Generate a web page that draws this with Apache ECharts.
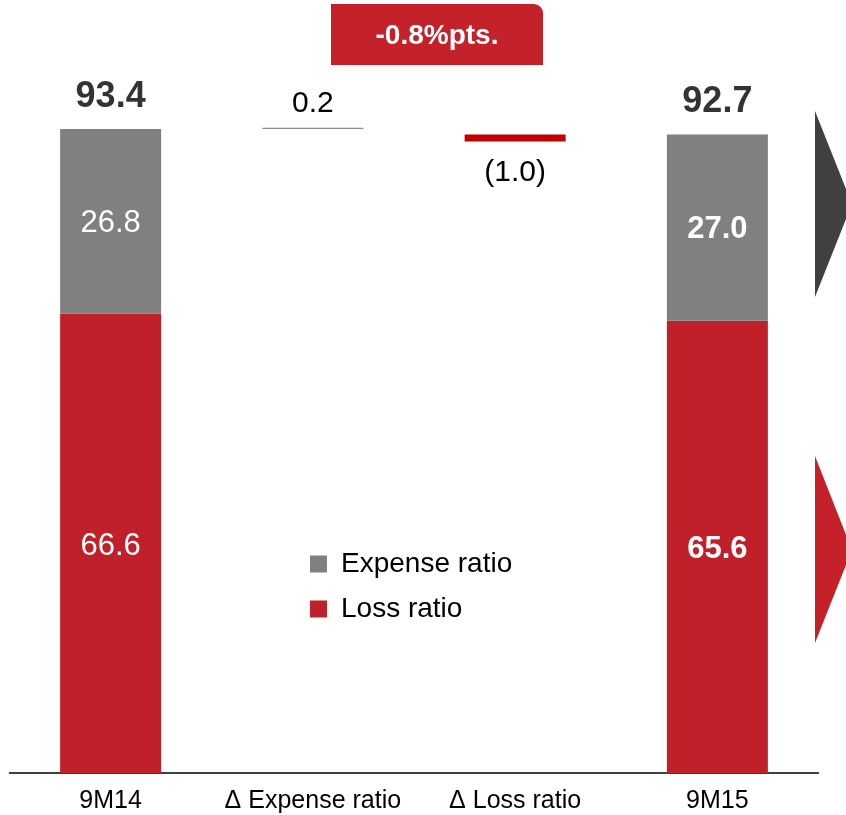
<!DOCTYPE html>
<html>
<head>
<meta charset="utf-8">
<script src="https://cdn.jsdelivr.net/npm/echarts@6/dist/echarts.min.js"></script>
<style>
  html, body { margin: 0; padding: 0; background: #fff; }
  #chart { width: 846px; height: 815px; }
</style>
</head>
<body>
<div id="chart"></div>
<script>
// Combined ratio bridge, 9M14 -> 9M15 (in %)
const categories = ['9M14', 'Δ Expense ratio', 'Δ Loss ratio', '9M15'];
const lossRatio = [66.6, '-', '-', 65.6];
const expenseRatio = [26.8, '-', '-', 27.0];
const totals = [93.4, '-', '-', 92.7];
const deltaExpense = ['-', 0.2, '-', '-'];
const deltaLoss = ['-', '-', -1.0, '-'];
// floating offsets under the change bars
const deltaBase = ['-', 93.4, 91.6, '-'];
const changeLabel = '-0.8%pts.';

const RED = '#C0202A';
const GREY = '#808080';
const FONT = '"Liberation Sans", Arial, sans-serif';

const chart = echarts.init(document.getElementById('chart'), null, { renderer: 'canvas' });

const fmtDelta = v => (v < 0 ? '(' + Math.abs(v).toFixed(1) + ')' : v.toFixed(1));

chart.setOption({
  animation: false,
  textStyle: { fontFamily: FONT },
  grid: { left: 9.5, right: 27.5, top: 83.5, bottom: 42, containLabel: false },
  legend: {
    data: ['Expense ratio', 'Loss ratio'],
    orient: 'vertical',
    left: 310,
    top: 550,
    padding: 0,
    itemWidth: 17,
    itemHeight: 17,
    itemGap: 17,
    icon: 'rect',
    textStyle: { fontSize: 28, color: '#000', fontFamily: FONT, padding: [0, 0, 0, 9] }
  },
  xAxis: {
    type: 'category',
    data: categories,
    axisTick: { show: false },
    axisLine: { lineStyle: { color: '#000', width: 1.5 } },
    axisLabel: { interval: 0, fontSize: 25, color: '#000', fontFamily: FONT, margin: 16 }
  },
  yAxis: {
    type: 'value', min: 0, max: 100, show: false,
    splitLine: { show: false }
  },
  series: [
    {
      name: 'base', type: 'bar', stack: 'w', barWidth: 101,
      data: deltaBase,
      itemStyle: { color: 'transparent' },
      silent: true
    },
    {
      name: 'Loss ratio', type: 'bar', stack: 'w', barWidth: 101,
      data: lossRatio.map((v, i) => v === '-' ? v : {
        value: v,
        label: { fontWeight: i === 3 ? 'bold' : 'normal' }
      }),
      itemStyle: { color: RED },
      label: {
        show: true, position: 'inside', offset: [0, 3], color: '#fff', fontSize: 31, fontFamily: FONT,
        formatter: p => Number(p.value).toFixed(1)
      }
    },
    {
      name: 'Expense ratio', type: 'bar', stack: 'w', barWidth: 101,
      data: expenseRatio.map((v, i) => v === '-' ? v : {
        value: v,
        label: { fontWeight: i === 3 ? 'bold' : 'normal' }
      }),
      itemStyle: { color: GREY },
      label: {
        show: true, position: 'inside', offset: [0, 2], color: '#fff', fontSize: 31, fontFamily: FONT,
        formatter: p => Number(p.value).toFixed(1)
      }
    },
    {
      name: 'Δ Expense', type: 'bar', stack: 'w', barWidth: 101,
      data: deltaExpense,
      itemStyle: { color: '#8c8c8c' },
      label: {
        show: true, position: 'top', distance: 9, color: '#000', fontSize: 30, fontFamily: FONT,
        formatter: p => fmtDelta(p.value)
      }
    },
    {
      name: 'Δ Loss', type: 'bar', stack: 'w', barWidth: 101,
      data: deltaLoss.map(v => v === '-' ? v : Math.abs(v)),
      itemStyle: { color: '#C00000' },
      label: {
        show: true, position: 'bottom', distance: 16, color: '#000', fontSize: 30, fontFamily: FONT,
        formatter: p => fmtDelta(deltaLoss[p.dataIndex])
      }
    },
    {
      name: 'Total', type: 'scatter',
      data: totals,
      symbolSize: 0,
      label: {
        show: true, position: 'top', distance: 14, color: '#000', fontSize: 36,
        fontWeight: 'bold', fontFamily: FONT,
        formatter: p => Number(p.value).toFixed(1)
      }
    }
  ],
  graphic: [
    {
      type: 'rect', x: 331, y: 4,
      shape: { x: 0, y: 0, width: 212, height: 61, r: [0, 9, 0, 0] },
      style: { fill: '#C4212B' }
    },
    {
      type: 'text', x: 437, y: 36,
      style: {
        text: changeLabel, fill: '#fff', font: 'bold 28px ' + FONT,
        textAlign: 'center', textVerticalAlign: 'middle'
      }
    },
    {
      type: 'polygon',
      shape: { points: [[815, 111], [852, 204], [815, 297]] },
      style: { fill: '#404040' }
    },
    {
      type: 'polygon',
      shape: { points: [[815, 456], [852, 550], [815, 643]] },
      style: { fill: '#C4212B' }
    }
  ]
});
</script>
</body>
</html>
